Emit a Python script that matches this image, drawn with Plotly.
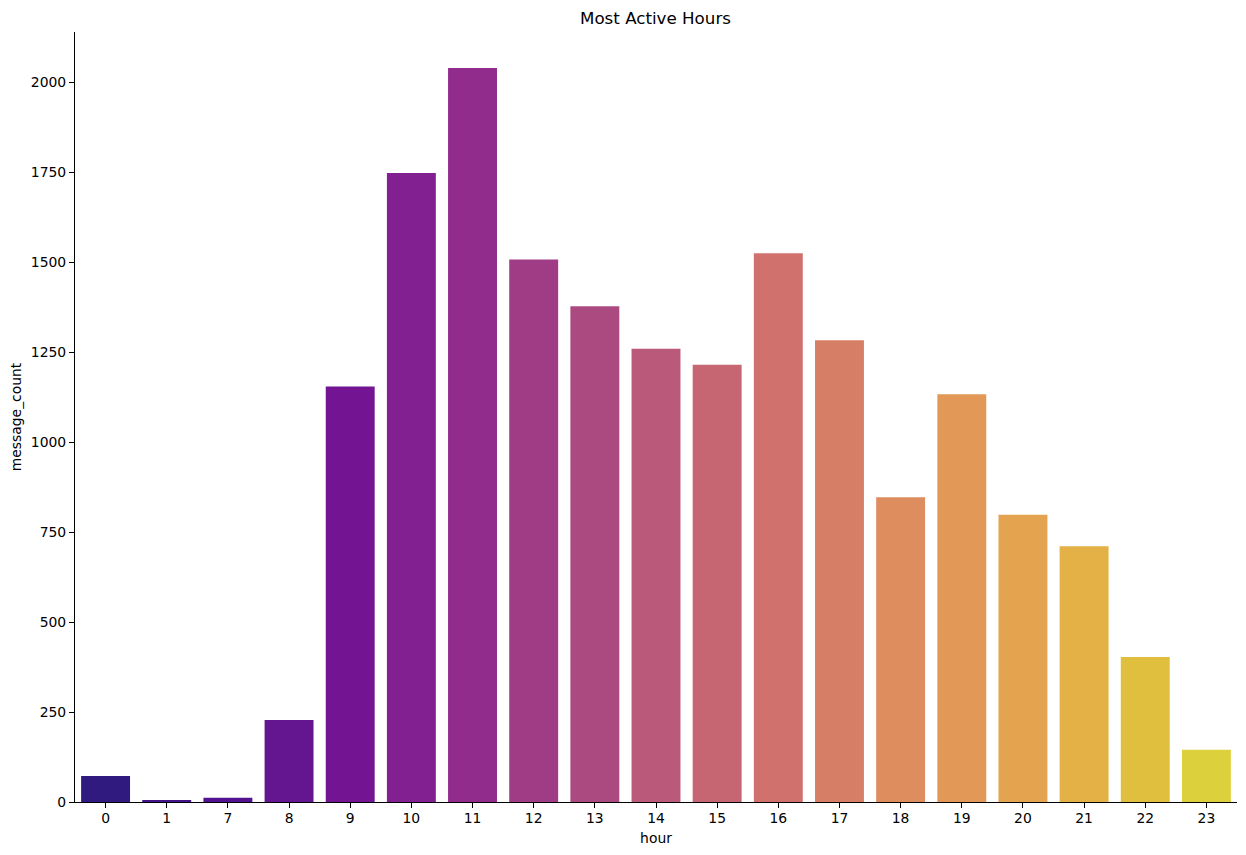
import plotly.graph_objects as go

hours = ["0", "1", "7", "8", "9", "10", "11", "12", "13", "14", "15", "16", "17", "18", "19", "20", "21", "22", "23"]
message_count = [72, 3, 12, 228, 1155, 1748, 2040, 1508, 1378, 1260, 1215, 1525, 1283, 847, 1133, 798, 711, 403, 145]
colors = ["#301a80", "#43138a", "#541290", "#641590", "#731592", "#821f91", "#912c8c", "#a03b86", "#ab4a80", "#bb597a",
          "#c66673", "#d0716e", "#d77f66", "#de8d5f", "#e29856", "#e3a34f", "#e3b145", "#e0bf3e", "#dcd13c"]
y_ticks = [0, 250, 500, 750, 1000, 1250, 1500, 1750, 2000]

FONT = "DejaVu Sans"
fig = go.Figure(go.Bar(x=hours, y=message_count, marker=dict(color=colors, line_width=0), width=0.8))

axis_common = dict(
    showgrid=False, zeroline=False, showline=True, linecolor="black", linewidth=1.1,
    ticks="outside", ticklen=5, tickwidth=1.1, tickcolor="black",
    tickfont=dict(family=FONT, size=13.9, color="black"),
)
# The page has an 8 px body margin, so the figure is laid out 8 px inside the window.
fig.update_layout(
    width=1238, height=847, autosize=False, showlegend=False,
    paper_bgcolor="white", plot_bgcolor="white",
    margin=dict(l=66.5, r=8.5, t=24, b=53, pad=0),
    title=dict(text="Most Active Hours", x=0.523, xanchor="center", y=0.988, yanchor="middle",
               font=dict(family=FONT, size=16.7, color="black")),
    font=dict(family=FONT, color="black"),
    xaxis=dict(type="category", categoryorder="array", categoryarray=hours, range=[-0.5, 18.5],
               ticklabelstandoff=-2, automargin=True,
               title=dict(text="hour", font=dict(family=FONT, size=13.9, color="black"), standoff=8), **axis_common),
    yaxis=dict(range=[0, 2140], tickmode="array", tickvals=y_ticks, ticktext=[str(v) for v in y_ticks],
               automargin=False,
               title=dict(text="message_count", font=dict(family=FONT, size=13.9, color="black")), **axis_common),
)
fig.write_html("out.html")
